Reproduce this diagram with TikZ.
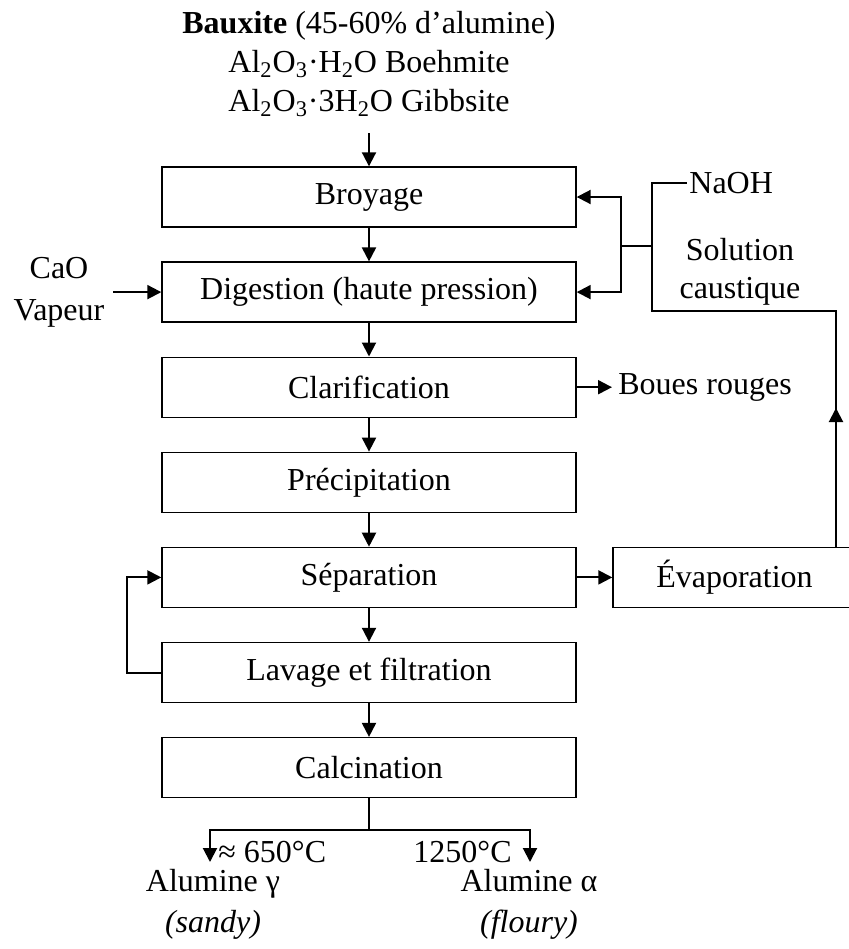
\documentclass[tikz,border=0pt]{standalone}
\usepackage{fontspec}
\setmainfont{Liberation Serif}
\usetikzlibrary{arrows.meta,positioning}

\begin{document}
\begin{tikzpicture}[x=0.5pt, y=-0.5pt, font=\fontsize{16}{19.5}\selectfont,
  box/.style={draw, line width=0.7pt, minimum width=207pt, minimum height=30pt, inner sep=0pt},
  lbl/.style={inner sep=3pt},
  flow/.style={-{Triangle[length=7pt,width=7pt]}, line width=1pt},
  link/.style={line width=1pt}]
\useasboundingbox (0,0) rectangle (848,949);

% Raw material
\node[lbl, align=center] (bauxite) at (369,64) {\textbf{Bauxite} (45-60\% d’alumine)\\
  Al\textsubscript{2}O\textsubscript{3}·H\textsubscript{2}O Boehmite\\
  Al\textsubscript{2}O\textsubscript{3}·3H\textsubscript{2}O Gibbsite};
\coordinate (feed) at (369,133);

% Process steps
\node[box] (broyage) at (369,197) {Broyage};
\node[box] (digestion) at (369,292.1) {Digestion (haute pression)};
\node[box] (clarif) at (369,387.2) {Clarification};
\node[box] (precip) at (369,482.3) {Précipitation};
\node[box] (separation) at (369,577.4) {Séparation};
\node[box] (lavage) at (369,672.5) {Lavage et filtration};
\node[box] (calcination) at (369,767.6) {Calcination};
\node[box, minimum width=121.5pt] (evap) at (734.5,577.4) {Évaporation};

% Main line
\draw[flow] (feed) -- (broyage);
\draw[flow] (broyage) -- (digestion);
\draw[flow] (digestion) -- (clarif);
\draw[flow] (clarif) -- (precip);
\draw[flow] (precip) -- (separation);
\draw[flow] (separation) -- (lavage);
\draw[flow] (lavage) -- (calcination);

% Side inputs and outputs
\node[lbl, align=center, font=\fontsize{16}{21}\selectfont] (cao) at (59,292) {CaO\\Vapeur};
\coordinate (caoin) at (113,292.1);
\draw[flow] (caoin) -- (digestion);
\node[lbl, anchor=west] (boues) at (612,387.2) {Boues rouges};
\draw[flow] (clarif) -- (boues);
\draw[flow] (separation) -- (evap);

% Washing loop
\coordinate (loop) at (127,672.5);
\draw[flow] (lavage.west) -- (loop) |- (separation.west);

% Caustic recycle
\node[inner sep=1pt, anchor=west] (naoh) at (687,183) {NaOH};
\node[lbl, align=center, font=\fontsize{16}{19}\selectfont] (caust) at (740,272) {Solution\\caustique};
\coordinate (rtop) at (836,311);
\coordinate (rjoin) at (652,311);
\coordinate (rsplit) at (652,246);
\coordinate (rfork) at (621,246);
\coordinate (riseA) at (836,455);
\coordinate (riseB) at (836,408);
\draw[link] (evap.north -| rtop) -- (rtop) -- (rjoin) -- (rsplit) |- (naoh.west);
\draw[flow] (riseA) -- (riseB);
\draw[link] (rsplit) -- (rfork);
\draw[flow] (rfork) |- (broyage.east);
\draw[flow] (rfork) |- (digestion.east);

% Products
\coordinate (split) at (369,830);
\coordinate (endL) at (210,862);
\coordinate (endR) at (530,862);
\draw[link] (calcination) -- (split);
\draw[flow] (split) -| (endL);
\draw[flow] (split) -| (endR);
\node[inner sep=1pt, anchor=west] (tgamma) at (216,852) {≈ 650°C};
\node[inner sep=1pt, anchor=east] (talpha) at (514,852) {1250°C};
\node[lbl, align=center, font=\fontsize{16}{20.5}\selectfont] (gamma) at (213,904) {Alumine γ\\\textit{(sandy)}};
\node[lbl, align=center, font=\fontsize{16}{20.5}\selectfont] (alpha) at (529,904) {Alumine α\\\textit{(floury)}};
\end{tikzpicture}
\end{document}
